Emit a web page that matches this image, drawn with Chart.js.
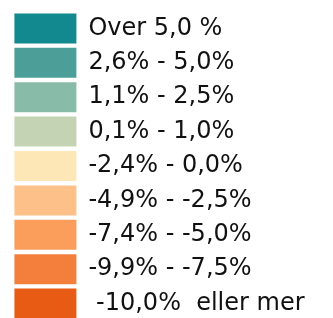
<!DOCTYPE html>
<html>
<head>
<meta charset="utf-8">
<script src="https://cdn.jsdelivr.net/npm/chart.js@4"></script>
<style>
  html, body { margin: 0; padding: 0; background: #fff; }
  #wrap { width: 333px; height: 318px; }
</style>
</head>
<body>
<div id="wrap"><canvas id="legend-chart"></canvas></div>
<script>
const labels = [
  'Over 5,0 %',
  '2,6% - 5,0%',
  '1,1% - 2,5%',
  '0,1% - 1,0%',
  '-2,4% - 0,0%',
  '-4,9% - -2,5%',
  '-7,4% - -5,0%',
  '-9,9% - -7,5%',
  ' -10,0%  eller mer'
];
const colors = [
  '#12898e',
  '#4c9f98',
  '#88bba8',
  '#c4d3b4',
  '#fde7b7',
  '#fdc088',
  '#fb9d5b',
  '#f47f3d',
  '#e85b14'
];

var datasets = [];
for (var i = 0; i < labels.length; i++) {
  datasets.push({
    label: labels[i],
    data: [],
    backgroundColor: colors[i],
    borderWidth: 0
  });
}

const ctx = document.getElementById('legend-chart');

new Chart(ctx, {
  type: 'bar',
  data: { labels: [''], datasets: datasets },
  options: {
    responsive: true,
    maintainAspectRatio: false,
    animation: false,
    // bottom padding is negative so the 9th item still fits in one column
    layout: { padding: { top: 9, left: 10, right: 0, bottom: -6 } },
    scales: {
      x: { display: false },
      y: { display: false }
    },
    plugins: {
      tooltip: { enabled: false },
      legend: {
        position: 'left',
        align: 'start',
        maxWidth: 330,
        maxHeight: 330,
        labels: {
          boxWidth: 62,
          boxHeight: 30,
          padding: 4.4,
          color: '#111111',
          font: { family: '"DejaVu Sans", sans-serif', size: 24 }
        }
      }
    }
  }
});
</script>
</body>
</html>
